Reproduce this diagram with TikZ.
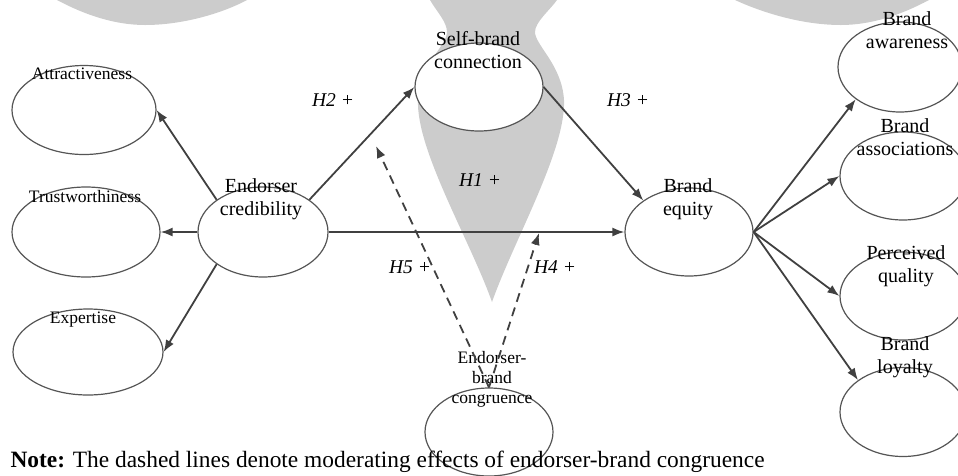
\documentclass[tikz,border=0pt]{standalone}
\usepackage{fontspec}
\setmainfont{Liberation Serif}
\usetikzlibrary{arrows.meta,shapes.geometric}
\definecolor{filigrane}{HTML}{CCCCCC}
\definecolor{trait}{HTML}{404040}
\definecolor{bord}{HTML}{555555}
\tikzset{
  bulle/.style={ellipse,draw=bord,line width=1.2pt,fill=white,inner sep=0pt},
  lien/.style={->,trait,line width=1.8pt},
  moder/.style={->,trait,line width=1.8pt,dash pattern=on 9pt off 6pt},
  etiq/.style={anchor=base,align=center,font=\fontsize{20}{23}\selectfont},
  petit/.style={anchor=base,align=center,font=\fontsize{17.5}{20}\selectfont},
  hyp/.style={font=\fontsize{19.5}{22}\selectfont\itshape},
}
\begin{document}
\begin{tikzpicture}[x=1pt,y=-1pt,>={Latex[length=12pt,width=9pt]}]
\useasboundingbox (0,0) rectangle (958,475);
% Filigrane
\fill[filigrane] (57,0) .. controls (85,15) and (115,25) .. (145,25) .. controls (185,25) and (225,12) .. (247,0) -- cycle;
\fill[filigrane] (929,0) .. controls (901,15) and (871,25) .. (841,25) .. controls (801,25) and (761,12) .. (735,0) -- cycle;
\fill[filigrane] (430,0) .. controls (437,12) and (447,22) .. (447,32) .. controls (447,45) and (420,65) .. (418,100)
  .. controls (416,150) and (470,240) .. (492,302) .. controls (514,240) and (566,150) .. (564,100)
  .. controls (562,65) and (535,45) .. (535,32) .. controls (535,22) and (550,10) .. (557,0) -- cycle;
% Ellipses
\node[bulle,minimum width=144pt,minimum height=89pt] (att) at (84,110) {};
\node[bulle,minimum width=148pt,minimum height=90pt] (tw) at (86,232) {};
\node[bulle,minimum width=150pt,minimum height=86pt] (ex) at (88,352) {};
\node[bulle,minimum width=130pt,minimum height=90pt] (ec) at (263,232) {};
\node[bulle,minimum width=128pt,minimum height=88pt] (sb) at (479,87) {};
\node[bulle,minimum width=128pt,minimum height=88pt] (be) at (689,232) {};
\node[bulle,minimum width=124pt,minimum height=90pt] (aw) at (900,67) {};
\node[bulle,minimum width=126pt,minimum height=88pt] (as) at (903,176) {};
\node[bulle,minimum width=126pt,minimum height=88pt] (pq) at (903,296) {};
\node[bulle,minimum width=126pt,minimum height=89pt] (bl) at (903,412) {};
\node[bulle,minimum width=128pt,minimum height=88pt] (cg) at (489,432) {};
% Textes (ligne de base = derniere ligne)
\node[petit] (attlab) at (82,79) {Attractiveness};
\node[petit] (twlab) at (85,202) {Trustworthiness};
\node[petit] (exlab) at (83,323) {Expertise};
\node[etiq] (eclab) at (261,215) {Endorser\\credibility};
\node[etiq] (sblab) at (478,68) {Self-brand\\connection};
\node[etiq] (belab) at (688,215) {Brand\\equity};
\node[etiq] (awlab) at (907,48) {Brand\\awareness};
\node[etiq] (aslab) at (905,155) {Brand\\associations};
\node[etiq] (pqlab) at (906,282) {Perceived\\quality};
\node[etiq] (bllab) at (905,373) {Brand\\loyalty};
\node[petit] (cglab) at (492,403) {Endorser-\\brand\\congruence};
% Flèches
\draw[lien] (ec.north west) -- (att.east);
\draw[lien] (ec.west) -- (tw.east);
\draw[lien] (ec.south west) -- (ex.east);
\draw[lien] (ec.north east) -- (sb.west);
\draw[lien] (ec.east) -- (be.west);
\draw[lien] (sb.east) -- (be.north west);
\draw[lien] (be.east) -- (aw.south west);
\draw[lien] (be.east) -- (as.west);
\draw[lien] (be.east) -- (pq.west);
\draw[lien] (be.east) -- (bl.north west);
\coordinate (h5tip) at (376,146);
\coordinate (h4tip) at (539,233);
\draw[moder] (cg.north) -- (h5tip);
\draw[moder] (cg.north) -- (h4tip);
% Hypothèses
\node[hyp] (h2) at (333,100) {H2 +};
\node[hyp] (h3) at (628,100) {H3 +};
\node[hyp] (h1) at (480,180) {H1 +};
\node[hyp] (h5) at (410,267) {H5 +};
\node[hyp] (h4) at (555,267) {H4 +};
\node[anchor=base west,font=\fontsize{23.4}{27}\selectfont] (note) at (7,467)
  {\textbf{Note:} The dashed lines denote moderating effects of endorser-brand congruence};
\end{tikzpicture}
\end{document}
